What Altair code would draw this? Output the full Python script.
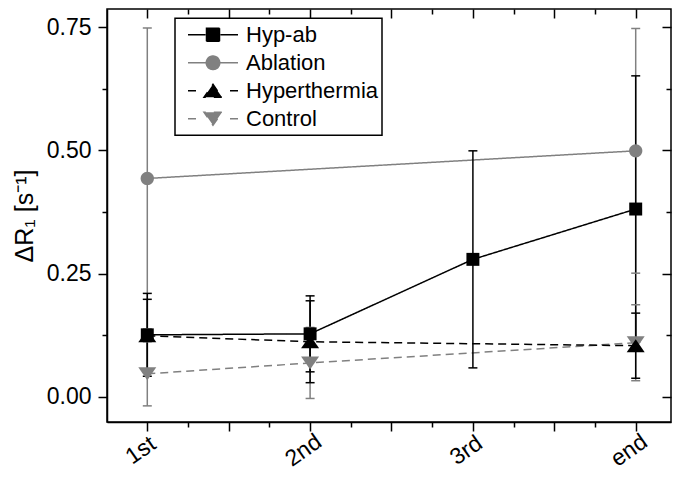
import altair as alt
import pandas as pd

# ---------------- data ----------------
categories = ["1st", "2nd", "3rd", "end"]
cat_pos = [1, 2, 3, 4]
series_names = ["Hyp-ab", "Ablation", "Hyperthermia", "Control"]

hyp_ab_mean = [0.126, 0.128, 0.279, 0.381]
hyp_ab_err = [0.084, 0.077, 0.220, 0.270]
ablation_mean = [0.443, None, None, 0.499]
ablation_err = [0.305, None, None, 0.248]
hyperthermia_mean = [0.124, 0.112, None, 0.104]
hyperthermia_err = [0.074, 0.083, None, 0.066]
control_mean = [0.047, 0.069, None, 0.110]
control_err = [0.065, 0.072, None, 0.077]

y_major = [0.0, 0.25, 0.5, 0.75]
y_minor_step = 0.125
x_minor_step = 0.25

# ---------------- styling ----------------
series_colors = ["#000000", "#808080", "#000000", "#808080"]
line_dash = [[1, 0], [1, 0], [8, 5], [8, 5]]
legend_dash = [[1, 0], [1, 0], [8, 8], [8, 8]]
marker_paths = [
    "M-0.72,-0.72L0.72,-0.72L0.72,0.72L-0.72,0.72Z",
    "M0.74,0A0.74,0.74,0,1,1,-0.74,0A0.74,0.74,0,1,1,0.74,0Z",
    "M0,-0.72L1,0.72L-1,0.72Z",
    "M0,0.72L1,-0.72L-1,-0.72Z",
]
legend_paths = [
    "M-1,0L-0.3,0M1,0L0.3,0M-0.26,-0.26L0.26,-0.26L0.26,0.26L-0.26,0.26Z",
    "M-1,0L-0.3,0M1,0L0.3,0M0.27,0A0.27,0.27,0,1,1,-0.27,0A0.27,0.27,0,1,1,0.27,0Z",
    "M-1,0L-0.38,0M1,0L0.38,0M0,-0.26L0.36,0.26L-0.36,0.26Z",
    "M-1,0L-0.38,0M1,0L0.38,0M0,0.26L0.36,-0.26L-0.36,-0.26Z",
]
FONT = "Liberation Sans"

means = {"Hyp-ab": hyp_ab_mean, "Ablation": ablation_mean,
         "Hyperthermia": hyperthermia_mean, "Control": control_mean}
errs = {"Hyp-ab": hyp_ab_err, "Ablation": ablation_err,
        "Hyperthermia": hyperthermia_err, "Control": control_err}
draw_order = ["Control", "Ablation", "Hyperthermia", "Hyp-ab"]

rows = []
for k, s in enumerate(draw_order):
    for i, c in enumerate(categories):
        m = means[s][i]
        if m is None:
            continue
        e = errs[s][i]
        rows.append({"series": s, "cat": c, "x": cat_pos[i], "mean": m,
                     "lo": m - e, "hi": m + e, "ord": k})
df = pd.DataFrame(rows)

x_scale = alt.Scale(domain=[0.7525, 4.2168], nice=False, zero=False)
y_scale = alt.Scale(domain=[-0.0507, 0.7865], nice=False, zero=False)
color_scale = alt.Scale(domain=series_names, range=series_colors)

x_vals = [1 + x_minor_step * i for i in range(13)]
y_vals = [y_minor_step * i for i in range(7)]

label_expr = " : ".join(
    f"datum.value === {p} ? '{c}'" for p, c in zip(cat_pos, categories)) + " : ''"
ylab_expr = "datum.value % 0.25 === 0 ? format(datum.value, '.2f') : ''"

bottom_axis = alt.Axis(values=x_vals, labelExpr=label_expr, labelAngle=-35,
                       labelAlign="center", labelBaseline="middle", labelPadding=19,
                       labelOffset=-7,
                       tickSize={"expr": "datum.value % 0.5 === 0 ? 9 : 5"},
                       title=None, grid=False, orient="bottom")
left_axis = alt.Axis(values=y_vals, labelExpr=ylab_expr,
                     tickSize={"expr": "datum.value % 0.25 === 0 ? 9 : 5"},
                     labelPadding=7, title="ΔR₁ [s⁻¹]", titlePadding=9,
                     grid=False, orient="left")
top_axis = alt.Axis(values=x_vals, labels=False, domain=False, title=None, grid=False,
                    orient="top",
                    tickSize={"expr": "datum.value % 0.5 === 0 ? -9 : -5"})
right_axis = alt.Axis(values=y_vals, labels=False, domain=False, title=None, grid=False,
                      orient="right",
                      tickSize={"expr": "datum.value % 0.25 === 0 ? -9 : -5"})

base = alt.Chart(df)

lines = base.mark_line(strokeWidth=1.5).encode(
    x=alt.X("x:Q", scale=x_scale, axis=bottom_axis),
    y=alt.Y("mean:Q", scale=y_scale, axis=left_axis),
    color=alt.Color("series:N", scale=color_scale, legend=None),
    strokeDash=alt.StrokeDash("series:N",
                              scale=alt.Scale(domain=series_names, range=line_dash),
                              legend=None),
    order="x:Q",
)

rules = base.mark_rule(strokeWidth=1.5).encode(
    x=alt.X("x:Q", scale=x_scale, axis=top_axis),
    y=alt.Y("lo:Q", scale=y_scale, axis=right_axis),
    y2="hi:Q",
    color=alt.Color("series:N", scale=color_scale, legend=None),
)

caps = base.transform_fold(["lo", "hi"], as_=["end", "val"]).mark_tick(
    orient="horizontal", size=9, thickness=1.5, opacity=1
).encode(
    x=alt.X("x:Q", scale=x_scale, axis=None),
    y=alt.Y("val:Q", scale=y_scale, axis=None),
    color=alt.Color("series:N", scale=color_scale, legend=None),
)

points = base.mark_point(filled=True, size=324, opacity=1).encode(
    x=alt.X("x:Q", scale=x_scale, axis=None),
    y=alt.Y("mean:Q", scale=y_scale, axis=None),
    color=alt.Color("series:N", scale=color_scale, legend=None),
    shape=alt.Shape("series:N", scale=alt.Scale(domain=series_names, range=marker_paths),
                    legend=None),
)

legend_spec = alt.Legend(title=None, orient="none", legendX=68, legendY=9.3,
                         strokeColor="black", fillColor="white", padding=3,
                         labelFont=FONT, labelFontSize=22, labelColor="black",
                         labelLimit=400, symbolSize=2500, symbolStrokeWidth=1.5,
                         symbolOffset=9, labelOffset=7, clipHeight=27, rowPadding=1)

legend_layer = base.transform_filter("false").mark_point(size=2500, opacity=1,
                                                           strokeWidth=1.5).encode(
    shape=alt.Shape("series:N", scale=alt.Scale(domain=series_names, range=legend_paths),
                    legend=legend_spec),
    fill=alt.Fill("series:N", scale=alt.Scale(domain=series_names, range=series_colors),
                  legend=legend_spec),
    stroke=alt.Stroke("series:N", scale=alt.Scale(domain=series_names, range=series_colors),
                      legend=legend_spec),
    strokeDash=alt.StrokeDash("series:N",
                              scale=alt.Scale(domain=series_names, range=legend_dash),
                              legend=legend_spec),
)

chart = alt.layer(lines, rules, caps, points, legend_layer).resolve_scale(
    shape="independent", strokeDash="independent", fill="independent", stroke="independent"
).resolve_axis(
    x="independent", y="independent"
).properties(
    width=564, height=413,
    padding={"left": 99, "top": 1, "right": 1, "bottom": 50},
    autosize=alt.AutoSizeParams(type="none"),
    background="white",
).configure_view(
    stroke="black", strokeWidth=1.5
).configure_axis(
    labelFont=FONT, labelFontSize=23, labelColor="black",
    titleFont=FONT, titleFontSize=25, titleColor="black", titleFontWeight="normal",
    tickColor="black", tickWidth=1.5, domainColor="black", domainWidth=1.5,
).configure_legend(
    strokeWidth=1.5
)

chart.save("out.html", embed_options={"renderer": "svg", "actions": False})
